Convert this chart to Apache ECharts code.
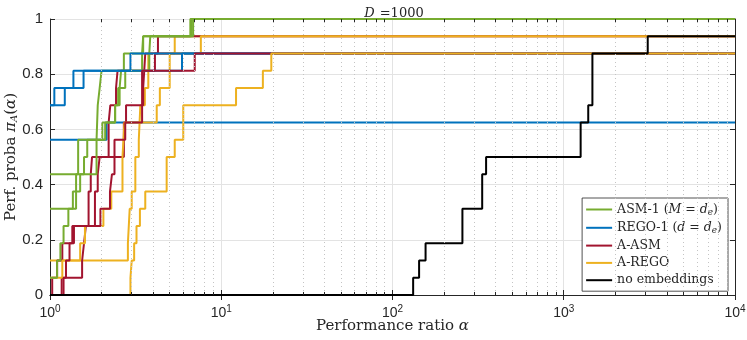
<!DOCTYPE html>
<html>
<head>
<meta charset="utf-8">
<script src="https://cdn.jsdelivr.net/npm/echarts@6/dist/echarts.min.js"></script>
<style>html,body{margin:0;padding:0;background:#fff}#c{width:747px;height:340px}</style>
</head>
<body>
<div id="c"></div>
<script>
// number of test problems in the profile
const nProblems = 16;
// x tick decades (labels 10^k)
const xTickExps = [0, 1, 2, 3, 4];
const yTicks = [0, 0.2, 0.4, 0.6, 0.8, 1];
// minor (dotted) grid positions on the log axis
const minorGrid = [2,3,4,5,6,7,8,9,20,30,40,50,60,70,80,90,200,300,400,500,600,700,800,900,2000,3000,4000,5000,6000,7000,8000,9000];

// Each curve: [performance ratio alpha, number of problems solved (step starts here)]
const asm1_a = [[1,7],[1.87,9],[1.9,11],[1.95,12],[2.0,13],[3.45,14],[3.5,15],[6.6,16],[10000,16]];
const asm1_b = [[1,5],[1.36,6],[1.42,7],[1.46,9],[2.02,10],[2.4,11],[2.5,12],[2.75,13],[3.8,14],[3.85,15],[6.85,16],[10000,16]];
const asm1_c = [[1,1],[1.1,2],[1.15,3],[1.2,4],[1.28,5],[1.42,6],[1.5,7],[1.58,8],[1.65,9],[2.1,10],[2.4,11],[2.55,12],[2.6,13],[2.7,14],[3.5,15],[6.7,16],[10000,16]];

const rego1_a = [[1,11],[1.06,12],[1.37,13],[2.95,14],[10000,14]];
const rego1_b = [[1,9],[2.14,10],[10000,10]];
const rego1_c = [[1,11],[1.22,12],[1.57,13],[5.9,14],[10000,14]];

const aasm_a = [[1,0],[1.03,1],[1.1,2],[1.18,3],[1.38,4],[1.83,6],[1.9,7],[1.95,8],[2.2,10],[2.25,11],[2.43,12],[2.48,13],[4.1,14],[4.27,15],[10000,15]];
const aasm_b = [[1,0],[1.17,1],[1.54,2],[1.58,3],[1.62,4],[1.68,6],[1.73,7],[1.76,8],[2.7,10],[2.78,11],[3.5,12],[3.55,13],[3.6,14],[10000,14]];
const aasm_c = [[1,0],[1.2,1],[1.24,2],[1.3,3],[1.35,4],[1.97,5],[2.24,6],[2.3,7],[2.38,9],[2.75,10],[3.45,13],[7.0,14],[10000,14]];

const arego_a = [[1,0],[2.95,1],[3.0,2],[3.1,3],[3.2,4],[3.35,5],[3.6,6],[4.8,8],[5.35,9],[6.0,11],[12.2,12],[17.5,13],[19.6,14],[10000,14]];
const arego_b = [[1,2],[2.85,3],[2.92,5],[3.0,6],[3.15,8],[3.3,9],[3.37,11],[3.58,12],[3.75,14],[5.35,15],[10000,15]];
const arego_c = [[1,1],[1.18,2],[1.5,3],[1.6,4],[2.05,5],[2.28,6],[2.65,8],[2.72,10],[4.2,11],[4.38,12],[5.0,14],[7.6,15],[10000,15]];

const noEmb = [[1,0],[132,1],[143,2],[156,3],[256,5],[334,7],[352,8],[1255,10],[1390,11],[1470,14],[3093,15],[10000,15]];

const names = {
  asm1: 'ASM-1 (M = d_e)',
  rego1: 'REGO-1 (d = d_e)',
  aasm: 'A-ASM',
  arego: 'A-REGO',
  noemb: 'no embeddings'
};
const colors = { asm1: '#77AC30', rego1: '#0072BD', aasm: '#A2142F', arego: '#EDB120', noemb: '#000000' };

const legendRich = {
  asm1: '{n|ASM-1 (}{i|M}{n| = }{i|d}{sub|e}{n|)}',
  rego1: '{n|REGO-1 (}{i|d}{n| = }{i|d}{sub|e}{n|)}',
  aasm: '{n|A-ASM}',
  arego: '{n|A-REGO}',
  noemb: '{n|no embeddings}'
};

const SERIF = 'DejaVu Serif';
const SANS = 'Liberation Sans';
const TXT = '#262626';

function mk(key, pts) {
  return {
    type: 'line', name: names[key], step: 'end', symbol: 'none', showSymbol: false,
    lineStyle: { width: 2, color: colors[key] }, itemStyle: { color: colors[key] },
    emphasis: { disabled: true }, animation: false,
    data: pts.map(p => [p[0], p[1] / nProblems])
  };
}

const gridSeries = {
  type: 'line', name: '_grid', data: [], silent: true, animation: false,
  markLine: {
    silent: true, symbol: 'none', animation: false, label: { show: false },
    lineStyle: { type: [1, 3], color: '#c4c4c4', width: 1 },
    data: minorGrid.map(v => ({ xAxis: v }))
  }
};
const tickSeries = {
  type: 'line', name: '_ticks', data: [], silent: true, animation: false,
  markLine: {
    silent: true, symbol: 'none', animation: false, label: { show: false },
    lineStyle: { type: 'solid', color: TXT, width: 1 },
    data: minorGrid.flatMap(v => [
      [{ coord: [v, 0] }, { coord: [v, 0.011] }],
      [{ coord: [v, 1] }, { coord: [v, 0.989] }]
    ])
  }
};

// drawing order chosen so that overlapping segments show as in the reference
const series = [
  gridSeries,
  mk('rego1', rego1_b),
  mk('arego', arego_b),
  mk('aasm', aasm_a), mk('aasm', aasm_b),
  mk('arego', arego_c),
  mk('asm1', asm1_a), mk('asm1', asm1_b), mk('asm1', asm1_c),
  mk('rego1', rego1_a), mk('rego1', rego1_c),
  mk('aasm', aasm_c),
  mk('arego', arego_a),
  mk('noemb', noEmb),
  tickSeries
];

const chart = echarts.init(document.getElementById('c'), null, { renderer: 'canvas' });
const keyByName = {};
Object.keys(names).forEach(k => keyByName[names[k]] = k);

chart.setOption({
  animation: false,
  backgroundColor: '#fff',
  title: {
    text: '{i|D} {n|=1000}', left: 389, top: 0, textAlign: 'center',
    textStyle: { fontWeight: 'normal', rich: {
      i: { fontFamily: SERIF, fontStyle: 'italic', fontWeight: 'normal', fontSize: 13, color: TXT },
      n: { fontFamily: SERIF, fontWeight: 'normal', fontSize: 13, color: TXT }
    } }
  },
  grid: { left: 50, right: 12, top: 19, bottom: 45, containLabel: false, outerBoundsMode: 'none' },
  legend: {
    data: Object.values(names),
    orient: 'vertical', right: 19, top: 198,
    icon: 'rect', itemWidth: 26, itemHeight: 2, itemGap: 3.3,
    padding: [4, 6, 4, 4],
    backgroundColor: '#fff', borderColor: '#262626', borderWidth: 0.8, borderRadius: 0,
    selectedMode: false,
    formatter: n => legendRich[keyByName[n]],
    textStyle: { fontFamily: SERIF, fontSize: 12.5, color: TXT, lineHeight: 14, rich: {
      n: { fontFamily: SERIF, fontSize: 12.5, color: TXT, lineHeight: 14 },
      i: { fontFamily: SERIF, fontSize: 12.5, fontStyle: 'italic', color: TXT, lineHeight: 14 },
      sub: { fontFamily: SERIF, fontSize: 9, fontStyle: 'italic', color: TXT, padding: [6, 0, 0, 0], lineHeight: 14 }
    } }
  },
  xAxis: [{
    type: 'log', logBase: 10, min: 1, max: 10000, position: 'bottom',
    name: 'Performance ratio {i|α}', nameLocation: 'middle', nameGap: 24, nameMoveOverlap: false,
    nameTextStyle: { fontFamily: SERIF, fontSize: 15, color: TXT, verticalAlign: 'top', rich: {
      i: { fontFamily: SERIF, fontSize: 15, fontStyle: 'italic', color: TXT } } },
    axisLine: { lineStyle: { color: TXT, width: 1 } },
    axisTick: { inside: true, length: 5, lineStyle: { color: TXT } },
    axisLabel: {
      margin: 9,
      formatter: v => '{b|10}{s|' + xTickExps[Math.round(Math.log10(v))] + '}',
      rich: {
        b: { fontFamily: SANS, fontSize: 14, color: TXT },
        s: { fontFamily: SANS, fontSize: 10, color: TXT, padding: [0, 0, 9, 0] }
      }
    },
    splitLine: { show: true, lineStyle: { color: '#e3e3e3', width: 1 } }
  }, {
    type: 'log', logBase: 10, min: 1, max: 10000, position: 'top',
    axisLine: { lineStyle: { color: TXT, width: 1 } },
    axisTick: { inside: true, length: 5, lineStyle: { color: TXT } },
    axisLabel: { show: false }, splitLine: { show: false }
  }],
  yAxis: [{
    type: 'value', min: 0, max: 1, interval: 0.2, position: 'left',
    name: '{n|Perf. proba }{i|π}{sub|A}{n|(}{i|α}{n|)}', nameLocation: 'middle', nameGap: 31, nameRotate: 90,
    nameMoveOverlap: false,
    nameTextStyle: { rich: {
      n: { fontFamily: SERIF, fontSize: 15, color: TXT },
      i: { fontFamily: SERIF, fontSize: 15, fontStyle: 'italic', color: TXT },
      sub: { fontFamily: SERIF, fontSize: 10, fontStyle: 'italic', color: TXT, padding: [6, 0, 0, 0] }
    } },
    axisLine: { show: true, lineStyle: { color: TXT, width: 1 } },
    axisTick: { show: true, inside: true, length: 5, lineStyle: { color: TXT } },
    axisLabel: { fontFamily: SANS, fontSize: 15, color: TXT, margin: 7,
      formatter: v => String(yTicks.find(t => Math.abs(t - v) < 1e-9) ?? v) },
    splitLine: { show: true, lineStyle: { color: '#e3e3e3', width: 1 } }
  }, {
    type: 'value', min: 0, max: 1, interval: 0.2, position: 'right',
    axisLine: { show: true, lineStyle: { color: TXT, width: 1 } },
    axisTick: { show: true, inside: true, length: 5, lineStyle: { color: TXT } },
    axisLabel: { show: false }, splitLine: { show: false }
  }],
  series: series
});
</script>
</body>
</html>
